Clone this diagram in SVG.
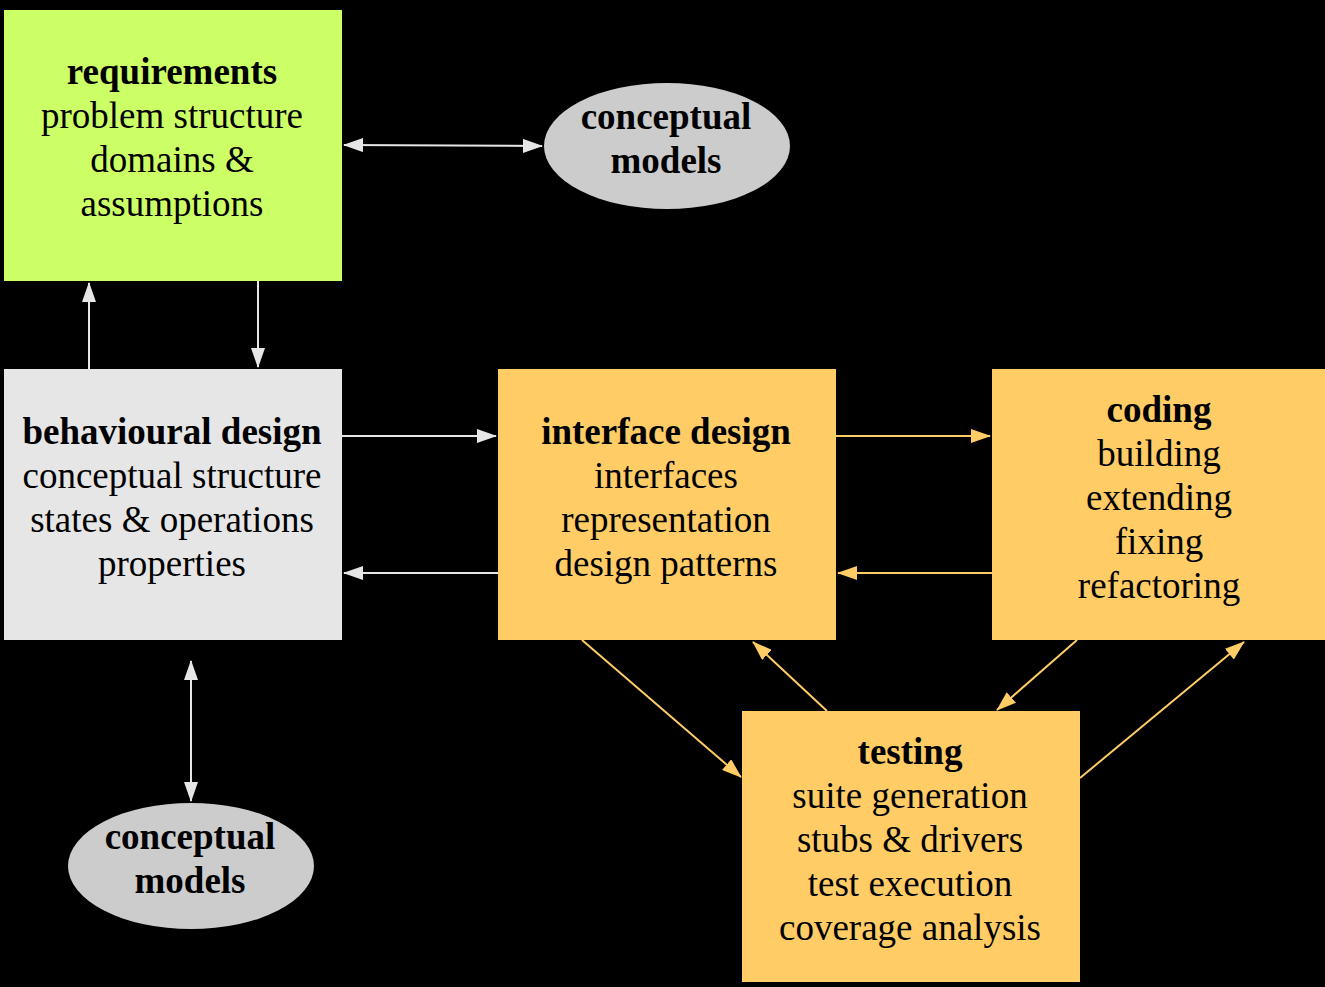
<svg xmlns="http://www.w3.org/2000/svg" width="1325" height="987" viewBox="0 0 1325 987">
<defs>
<style>
text{font-family:"Liberation Serif","DejaVu Serif",serif;font-size:37px;fill:#000;text-anchor:middle}
.b{font-weight:bold}
.lw{stroke:#E6E6E6;stroke-width:2;fill:none}
.or{stroke:#FFCC66;stroke-width:2;fill:none}
</style>
<marker id="aw" viewBox="0 0 20 14" refX="19" refY="7" markerWidth="20" markerHeight="14" markerUnits="userSpaceOnUse" orient="auto-start-reverse"><path d="M0,0 L20,7 L0,14 Z" fill="#E6E6E6"/></marker>
<marker id="ao" viewBox="0 0 20 14" refX="19" refY="7" markerWidth="20" markerHeight="14" markerUnits="userSpaceOnUse" orient="auto-start-reverse"><path d="M0,0 L20,7 L0,14 Z" fill="#FFCC66"/></marker>
</defs>
<rect width="1325" height="987" fill="#000"/>
<g id="connectors">
<line class="lw" x1="344" y1="145" x2="542" y2="146" marker-start="url(#aw)" marker-end="url(#aw)"/>
<line class="lw" x1="89" y1="369" x2="89" y2="283" marker-end="url(#aw)"/>
<line class="lw" x1="258" y1="281" x2="258" y2="367" marker-end="url(#aw)"/>
<line class="lw" x1="342" y1="436" x2="496" y2="436" marker-end="url(#aw)"/>
<line class="lw" x1="498" y1="573" x2="344" y2="573" marker-end="url(#aw)"/>
<line class="lw" x1="191" y1="661" x2="191" y2="801" marker-start="url(#aw)" marker-end="url(#aw)"/>
<line class="or" x1="836" y1="436" x2="990" y2="436" marker-end="url(#ao)"/>
<line class="or" x1="992" y1="573" x2="838" y2="573" marker-end="url(#ao)"/>
<line class="or" x1="582" y1="640" x2="741" y2="777" marker-end="url(#ao)"/>
<line class="or" x1="827" y1="711" x2="753" y2="642" marker-end="url(#ao)"/>
<line class="or" x1="1077" y1="640" x2="997" y2="710" marker-end="url(#ao)"/>
<line class="or" x1="1080" y1="778" x2="1244" y2="642" marker-end="url(#ao)"/>
</g>
<g id="requirements">
<rect x="4" y="10" width="338" height="271" fill="#CCFF66"/>
<text x="172" y="84" class="b">requirements</text>
<text x="172" y="128">problem structure</text>
<text x="172" y="172">domains &amp;</text>
<text x="172" y="216">assumptions</text>
</g>
<g id="conceptual-models-top">
<ellipse cx="667" cy="146" rx="123" ry="63" fill="#CCCCCC"/>
<text x="666" y="129" class="b">conceptual</text>
<text x="666" y="173" class="b">models</text>
</g>
<g id="behavioural-design">
<rect x="4" y="369" width="338" height="271" fill="#E6E6E6"/>
<text x="172" y="444" class="b">behavioural design</text>
<text x="172" y="488">conceptual structure</text>
<text x="172" y="532">states &amp; operations</text>
<text x="172" y="576">properties</text>
</g>
<g id="interface-design">
<rect x="498" y="369" width="338" height="271" fill="#FFCC66"/>
<text x="666" y="444" class="b">interface design</text>
<text x="666" y="488">interfaces</text>
<text x="666" y="532">representation</text>
<text x="666" y="576">design patterns</text>
</g>
<g id="coding">
<rect x="992" y="369" width="333" height="271" fill="#FFCC66"/>
<text x="1159" y="422" class="b">coding</text>
<text x="1159" y="466">building</text>
<text x="1159" y="510">extending</text>
<text x="1159" y="554">fixing</text>
<text x="1159" y="598">refactoring</text>
</g>
<g id="testing">
<rect x="742" y="711" width="338" height="271" fill="#FFCC66"/>
<text x="910" y="764" class="b">testing</text>
<text x="910" y="808">suite generation</text>
<text x="910" y="852">stubs &amp; drivers</text>
<text x="910" y="896">test execution</text>
<text x="910" y="940">coverage analysis</text>
</g>
<g id="conceptual-models-bottom">
<ellipse cx="191" cy="866" rx="123" ry="63" fill="#CCCCCC"/>
<text x="190" y="849" class="b">conceptual</text>
<text x="190" y="893" class="b">models</text>
</g>
</svg>
